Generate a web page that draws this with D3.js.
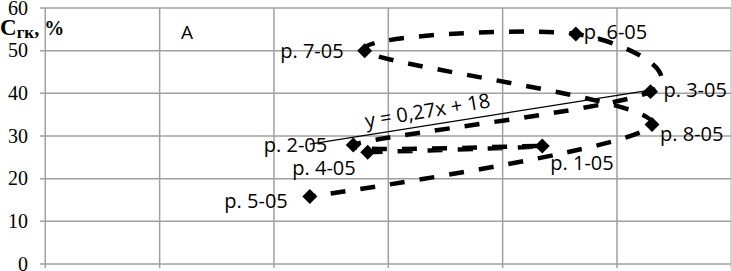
<!DOCTYPE html>
<html lang="ru">
<head>
  <meta charset="UTF-8">
  <title>Сгк</title>
  <script src="https://d3js.org/d3.v7.min.js"></script>
  <style>
    body { margin: 0; background: #fff; }
  </style>
</head>
<body>
  <script>
    // samples in the order the line joins them
    var samples = ["p. 4-05", "p. 1-05", "p. 2-05", "p. 3-05", "p. 6-05", "p. 7-05", "p. 8-05", "p. 5-05"];
    var xValues = [42.3, 65.2, 40.4, 79.4, 69.6, 41.9, 79.6, 34.7];
    var yValues = [26.2, 27.65, 27.9, 40.4, 53.9, 50.0, 32.7, 15.8];
    var xTicks = [0, 15, 30, 45, 60, 75, 90];
    var yTicks = [0, 10, 20, 30, 40, 50, 60];
    var trendText = "y = 0,27x + 18";

    // where each data label sits next to its marker
    var labelPlace = {
      "p. 4-05": { anchor: "end", dx: -12, dy: 16 },
      "p. 1-05": { anchor: "start", dx: 8, dy: 17 },
      "p. 2-05": { anchor: "end", dx: -26, dy: 0 },
      "p. 3-05": { anchor: "start", dx: 13, dy: -2 },
      "p. 6-05": { anchor: "start", dx: 8, dy: -2 },
      "p. 7-05": { anchor: "end", dx: -21, dy: 0 },
      "p. 8-05": { anchor: "start", dx: 8, dy: 10 },
      "p. 5-05": { anchor: "end", dx: -22, dy: 4 }
    };

    var width = 731, height = 271;
    var svg = d3.select("body").append("svg")
      .attr("width", width)
      .attr("height", height);

    var x = d3.scaleLinear().domain([0, 90]).range([45.3, 731.3]);
    var y = d3.scaleLinear().domain([0, 60]).range([264, 8]);

    var points = samples.map(function(s, i) {
      return { name: s, x: xValues[i], y: yValues[i] };
    });

    // grid
    var grid = svg.append("g");
    grid.selectAll(".hg").data(yTicks).enter().append("line")
      .attr("x1", 40).attr("x2", width)
      .attr("y1", d => y(d)).attr("y2", d => y(d))
      .style("stroke", "#a0a0a0").style("stroke-width", 1.5);
    grid.selectAll(".vg").data(xTicks).enter().append("line")
      .attr("x1", d => x(d)).attr("x2", d => x(d))
      .attr("y1", y(60)).attr("y2", y(0) + 4)
      .style("stroke", "#a0a0a0").style("stroke-width", 1.5);

    // y tick labels
    svg.selectAll(".yt").data(yTicks).enter().append("text")
      .attr("x", 28)
      .attr("y", d => y(d) + 6.5)
      .attr("text-anchor", "end")
      .style("font-family", "'Liberation Serif', 'Times New Roman', serif")
      .style("font-size", "20px")
      .text(d => d);

    // axis title
    var title = svg.append("text")
      .attr("x", 0).attr("y", 35)
      .style("font-family", "'Liberation Serif', 'Times New Roman', serif")
      .style("font-weight", "bold");
    title.append("tspan").style("font-size", "23px").text("С");
    title.append("tspan").attr("dy", 3).style("font-size", "17px").text("гк");
    title.append("tspan").attr("dy", -3).style("font-size", "20px").text(", %");

    svg.append("text")
      .attr("x", 181).attr("y", 38.5)
      .style("font-family", "'Open Sans', sans-serif")
      .style("font-size", "19px")
      .text("A");

    // least squares trend line over the data range
    var mx = d3.mean(xValues), my = d3.mean(yValues);
    var sxy = d3.sum(xValues, (v, i) => (v - mx) * (yValues[i] - my));
    var sxx = d3.sum(xValues, v => (v - mx) * (v - mx));
    var slope = sxy / sxx, icpt = my - slope * mx;
    var xr = d3.extent(xValues);

    svg.append("line")
      .attr("x1", x(xr[0])).attr("y1", y(slope * xr[0] + icpt))
      .attr("x2", x(xr[1])).attr("y2", y(slope * xr[1] + icpt))
      .style("stroke", "#000").style("stroke-width", 1.3);

    var tx = 42.1, ty = slope * tx + icpt;
    svg.append("text")
      .attr("transform", "translate(" + x(tx) + "," + (y(ty) - 7) + ") rotate(-9.5)")
      .style("font-family", "'Open Sans', sans-serif")
      .style("font-size", "20px")
      .text(trendText);

    // smoothed dashed line through the samples
    var line = d3.line()
      .x(d => x(d.x))
      .y(d => y(d.y))
      .curve(d3.curveCardinal.tension(0));

    svg.append("path")
      .datum(points)
      .attr("d", line)
      .style("fill", "none")
      .style("stroke", "#000")
      .style("stroke-width", 4.5)
      .style("stroke-dasharray", "15 15");

    // diamond markers
    var diamond = d3.symbol().type(d3.symbolSquare).size(112);
    svg.selectAll(".pt").data(points).enter().append("path")
      .attr("d", diamond)
      .attr("transform", d => "translate(" + x(d.x) + "," + y(d.y) + ") rotate(45)")
      .style("fill", "#000");

    // data labels
    svg.selectAll(".lbl").data(points).enter().append("text")
      .attr("x", d => x(d.x) + labelPlace[d.name].dx)
      .attr("y", d => y(d.y) + labelPlace[d.name].dy + 7)
      .attr("text-anchor", d => labelPlace[d.name].anchor)
      .style("font-family", "'Open Sans', sans-serif")
      .style("font-size", "20px")
      .text(d => d.name);
  </script>
</body>
</html>
